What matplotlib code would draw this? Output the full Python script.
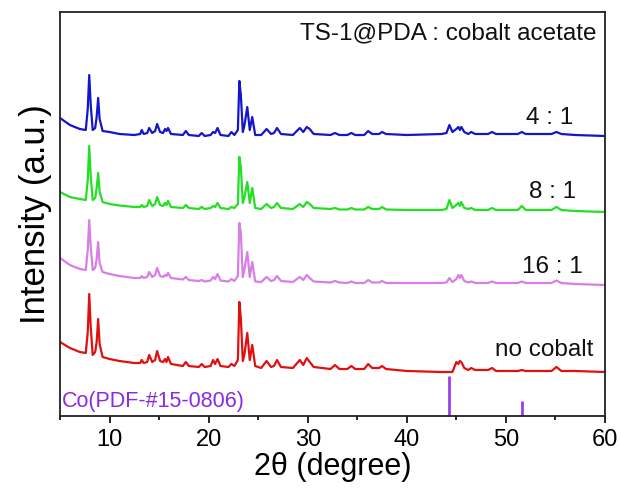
import matplotlib
matplotlib.use("Agg")
import matplotlib.pyplot as plt
import numpy as np

plt.rcParams['font.family'] = ['Liberation Sans', 'DejaVu Sans']

# 2theta grid shared by all traces (degrees)
two_theta = [5.0, 6.0, 7.0, 7.6, 7.8, 7.95, 8.1, 8.3, 8.55, 8.7, 8.85, 9.0, 9.3, 10.0, 11.0, 12.5,
             13.1, 13.25, 13.45, 13.8, 14.0, 14.3, 14.6, 14.8, 15.1, 15.4, 15.6, 15.75, 15.9, 16.2,
             17.4, 17.7, 18.0, 19.0, 19.3, 19.6, 20.2, 20.45, 20.65, 20.9, 21.2, 22.0, 22.3, 22.6,
             22.95, 23.1, 23.25, 23.45, 23.6, 23.9, 24.15, 24.4, 24.7, 25.3, 25.85, 26.3, 26.6, 26.9,
             27.3, 28.5, 29.2, 29.55, 29.9, 30.2, 30.6, 32.3, 32.75, 33.2, 34.0, 34.4, 34.8, 35.7,
             36.1, 36.5, 37.2, 37.5, 37.9, 40.0, 43.5, 44.0, 44.3, 44.6, 45.0, 45.2, 45.35, 45.5,
             45.8, 46.2, 46.5, 46.9, 48.2, 48.6, 49.0, 51.2, 51.6, 52.0, 54.6, 55.1, 55.6, 57.0, 60.0]

# intensities (a.u.)
no_cobalt = [30, 24, 20, 19, 40, 78, 45, 17, 20, 30, 53, 28, 15, 13, 11, 9,
             9, 12, 9, 10, 17, 10, 12, 21, 11, 10, 13, 10, 15, 8,
             6, 10, 6, 5, 8, 5, 6, 12, 8, 13, 6, 5, 8, 6,
             12, 70, 54, 11, 17, 39, 12, 27, 6, 4, 11, 5, 6, 12,
             5, 4, 12, 7, 14, 10, 5, 3, 7, 3, 3, 6, 3, 3,
             8, 4, 4, 6, 3, 1, 0, 0, 0, 0, 10, 8, 11, 10,
             4, 2, 4, 2, 2, 4, 1, 1, 2, 1, 1, 5, 1, 1, 0]
ratio_16 = [27, 20, 16, 15, 35, 65, 38, 15, 17, 26, 43, 22, 13, 11, 9, 7,
            7, 9, 7, 8, 13, 8, 10, 17, 9, 8, 10, 9, 12, 7,
            5.5, 8, 5, 4, 5, 3.5, 4.5, 8, 6, 11, 4.5, 3.5, 6, 4,
            9, 62, 52, 8, 15, 33, 8, 23, 3.5, 3, 8, 4, 5, 9,
            4, 3, 8, 5, 10, 7, 3.5, 2.5, 4, 2.5, 2, 3.5, 2, 2,
            5, 2.5, 2.5, 4, 2, 2, 2, 2.5, 7, 3, 6, 10, 7, 10,
            4, 2.5, 3.5, 2, 2, 3.5, 2, 2, 3.5, 2, 2, 4.5, 2, 1, 0]
ratio_8 = [20, 15, 13, 12, 32, 66, 36, 12, 14, 24, 39, 20, 10, 8, 6.5, 5,
           5, 7, 5, 6, 12, 6, 8, 15, 7, 6, 9, 7, 11, 5,
           4, 7, 4, 3, 5, 3, 4, 6, 5, 9, 4, 3, 5, 4,
           8, 55, 45, 9, 14, 30, 9, 24, 4, 3, 8, 4, 5, 9,
           4, 3, 8, 5, 10, 8, 4, 3, 4, 2.5, 2.5, 4, 2.5, 2.5,
           5, 3, 3, 5, 2.5, 2, 2, 3, 12, 4, 7, 9, 6, 10,
           4, 3, 4, 2, 2, 4, 2, 2, 6, 2, 2, 5, 2, 1, 0]
ratio_4 = [19, 12, 8, 7, 28, 62, 32, 7, 9, 20, 39, 18, 6, 5, 3, 2,
           3, 7, 3, 4, 9, 4, 6, 13, 5, 4, 8, 6, 9, 3,
           2, 6, 2, 1, 4, 1, 2, 5, 4, 9, 2, 1, 5, 2,
           7, 56, 42, 5, 11, 30, 7, 20, 2, 2, 8, 3, 4, 9,
           3, 2, 9, 5, 10, 8, 3, 2, 4, 2, 2, 4, 2, 2,
           6, 3, 3, 5, 3, 2, 3, 4, 12, 5, 8, 10, 7, 10,
           5, 3, 5, 3, 3, 5, 3, 3, 5, 3, 3, 5, 3, 2, 1]

series_names = ['no cobalt', '16 : 1', '8 : 1', '4 : 1']
series_colors = ['#e01010', '#d97ee6', '#22e022', '#1515cc']
stack_offsets = [44, 131, 204, 279]

# Co reference card PDF#15-0806
co_positions = [44.26, 51.6]
co_heights = [40, 15]

fig = plt.figure(figsize=(6.2, 4.88), dpi=100)
ax = fig.add_axes([60 / 620, 72 / 488, 545 / 620, 404 / 488])

traces = [no_cobalt, ratio_16, ratio_8, ratio_4]
for y, c, off in zip(traces, series_colors, stack_offsets):
    ax.plot(two_theta, np.array(y) + off, color=c, lw=1.6)

ax.vlines(co_positions, 0, co_heights, color='#9a3ff0', lw=2)

# labels next to each trace
label_pos = [(53.85, 66), (54.65, 149), (54.75, 224), (54.45, 298)]
for name, (lx, ly) in zip(series_names, label_pos):
    ax.text(lx, ly, name, fontsize=17.5, ha='center', va='center', color='#111111')

ax.text(0.985, 383, 'TS-1@PDA : cobalt acetate', transform=ax.get_yaxis_transform(),
        fontsize=17.5, ha='right', va='center', color='#111111')
ax.text(5.2, 15, 'Co(PDF-#15-0806)', fontsize=15.5, ha='left', va='center', color='#8a2be2')

ax.set_xlim(5, 60)
ax.set_ylim(0, 404)
ax.set_xticks(range(10, 61, 10))
ax.set_xticks(range(5, 61, 5), minor=True)
ax.set_yticks([])
ax.tick_params(axis='x', which='major', direction='out', length=5, width=1.2, labelsize=17, pad=4)
ax.tick_params(axis='x', which='minor', direction='out', length=3, width=1.2)
for s in ax.spines.values():
    s.set_linewidth(1.3)
    s.set_color('#222222')

ax.set_xlabel('2θ (degree)', fontsize=22, labelpad=1)
ax.set_ylabel('Intensity (a.u.)', fontsize=25, labelpad=6)

fig.savefig('out.png', dpi=100)
